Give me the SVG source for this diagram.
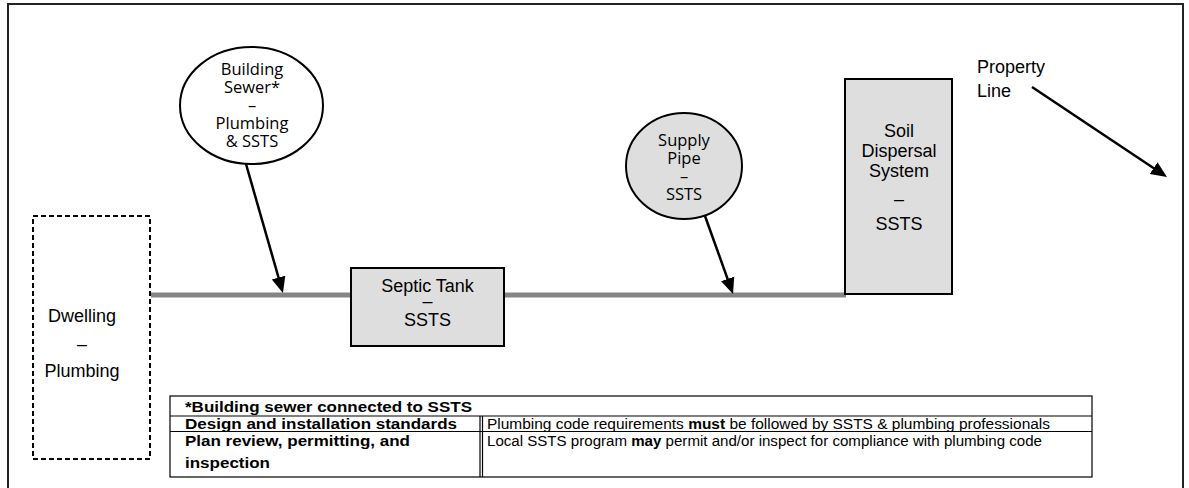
<svg xmlns="http://www.w3.org/2000/svg" width="1189" height="488" viewBox="0 0 1189 488">
  <style>
    .frame { fill: none; stroke: #222; stroke-width: 2; }
    .box { fill: #dedede; stroke: #000; stroke-width: 2; }
    .dash { fill: #fff; stroke: #000; stroke-width: 2; stroke-dasharray: 5 3; }
    .bubble { stroke: #000; stroke-width: 2; }
    .pipe { stroke: #858585; stroke-width: 5; fill: none; }
    .lead { stroke: #000; stroke-width: 2.5; fill: none; marker-end: url(#head); }
    .sans { font-family: "Liberation Sans", Arial, sans-serif; fill: #000; }
    .hum { font-family: "Open Sans", "Noto Sans", sans-serif; font-size: 16.5px; fill: #000; text-anchor: middle; }
    .lbl { font-size: 18px; text-anchor: middle; }
    .tbl { fill: none; stroke: #000; stroke-width: 1.2; }
    .th { font-size: 13.8px; font-weight: bold; }
    .td { font-size: 13.8px; }
  </style>
  <defs>
    <marker id="head" markerUnits="userSpaceOnUse" markerWidth="18" markerHeight="16" viewBox="0 0 18 16" refX="2" refY="8" orient="auto">
      <path d="M0,1 L16,8 L0,15 z" fill="#000"/>
    </marker>
  </defs>

  <!-- outer frame -->
  <rect class="frame" x="8" y="4" width="1175" height="500"/>

  <!-- pipes and leader arrows -->
  <g id="connectors">
    <line class="pipe" x1="151" y1="295" x2="352" y2="295"/>
    <line class="pipe" x1="503" y1="295" x2="846" y2="295"/>
    <line class="lead" x1="246" y1="164" x2="279.1" y2="279.5"/>
    <line class="lead" x1="705" y1="216" x2="728.3" y2="280.8"/>
    <line class="lead" x1="1032" y1="87" x2="1155.3" y2="169.2"/>
  </g>

  <!-- dwelling -->
  <g id="dwelling">
    <rect class="dash" x="33" y="216" width="117" height="243"/>
    <text class="sans lbl" x="82" y="322">Dwelling</text>
    <text class="sans lbl" x="82" y="350">–</text>
    <text class="sans lbl" x="82" y="377">Plumbing</text>
  </g>

  <!-- building sewer bubble -->
  <g id="building-sewer">
    <ellipse class="bubble" cx="251.5" cy="105.5" rx="71.5" ry="58.5" fill="#fff"/>
    <text class="hum" x="252" y="75">Building</text>
    <text class="hum" x="252" y="93">Sewer*</text>
    <text class="hum" x="252" y="111">–</text>
    <text class="hum" x="252" y="129">Plumbing</text>
    <text class="hum" x="252" y="147">&amp; SSTS</text>
  </g>

  <!-- septic tank -->
  <g id="septic-tank">
    <rect class="box" x="351" y="268" width="153" height="78"/>
    <text class="sans lbl" x="427.5" y="292" font-size="17">Septic Tank</text>
    <text class="sans lbl" x="427.5" y="307" font-size="17">–</text>
    <text class="sans lbl" x="427.5" y="326" font-size="17">SSTS</text>
  </g>

  <!-- supply pipe bubble -->
  <g id="supply-pipe">
    <ellipse class="bubble" cx="684" cy="166" rx="58" ry="53" fill="#dedede"/>
    <text class="hum" x="684" y="145.5">Supply</text>
    <text class="hum" x="684" y="164">Pipe</text>
    <text class="hum" x="684" y="182">–</text>
    <text class="hum" x="684" y="200">SSTS</text>
  </g>

  <!-- soil dispersal system -->
  <g id="soil-dispersal">
    <rect class="box" x="845" y="79" width="107" height="215"/>
    <text class="sans lbl" x="899" y="137" font-size="17.5">Soil</text>
    <text class="sans lbl" x="899" y="157" font-size="17.5">Dispersal</text>
    <text class="sans lbl" x="899" y="177" font-size="17.5">System</text>
    <text class="sans lbl" x="899" y="205" font-size="17.5">–</text>
    <text class="sans lbl" x="899" y="230" font-size="17.5">SSTS</text>
  </g>

  <!-- property line label -->
  <g id="property-line">
    <text class="sans" x="977" y="73" font-size="18">Property</text>
    <text class="sans" x="977" y="97" font-size="18">Line</text>
  </g>

  <!-- legend table -->
  <g id="legend">
    <rect class="tbl" x="170" y="396" width="922" height="81"/>
    <line class="tbl" x1="170" y1="416" x2="1092" y2="416" stroke-width="2"/>
    <line class="tbl" x1="170" y1="431.5" x2="1092" y2="431.5"/>
    <line class="tbl" x1="480" y1="416" x2="480" y2="477"/>
    <line class="tbl" x1="482.5" y1="416" x2="482.5" y2="477"/>
    <text class="sans th" x="185" y="411.5" textLength="287" lengthAdjust="spacingAndGlyphs">*Building sewer connected to SSTS</text>
    <text class="sans th" x="185" y="428.5" textLength="272" lengthAdjust="spacingAndGlyphs">Design and installation standards</text>
    <text class="sans th" x="185" y="445.5" textLength="225" lengthAdjust="spacingAndGlyphs">Plan review, permitting, and</text>
    <text class="sans th" x="185" y="468" textLength="85" lengthAdjust="spacingAndGlyphs">inspection</text>
    <text class="sans td" x="487" y="428.5" textLength="563" lengthAdjust="spacingAndGlyphs">Plumbing code requirements <tspan font-weight="bold">must</tspan> be followed by SSTS &amp; plumbing professionals</text>
    <text class="sans td" x="487" y="445.5" textLength="555" lengthAdjust="spacingAndGlyphs">Local SSTS program <tspan font-weight="bold">may</tspan> permit and/or inspect for compliance with plumbing code</text>
  </g>
</svg>
